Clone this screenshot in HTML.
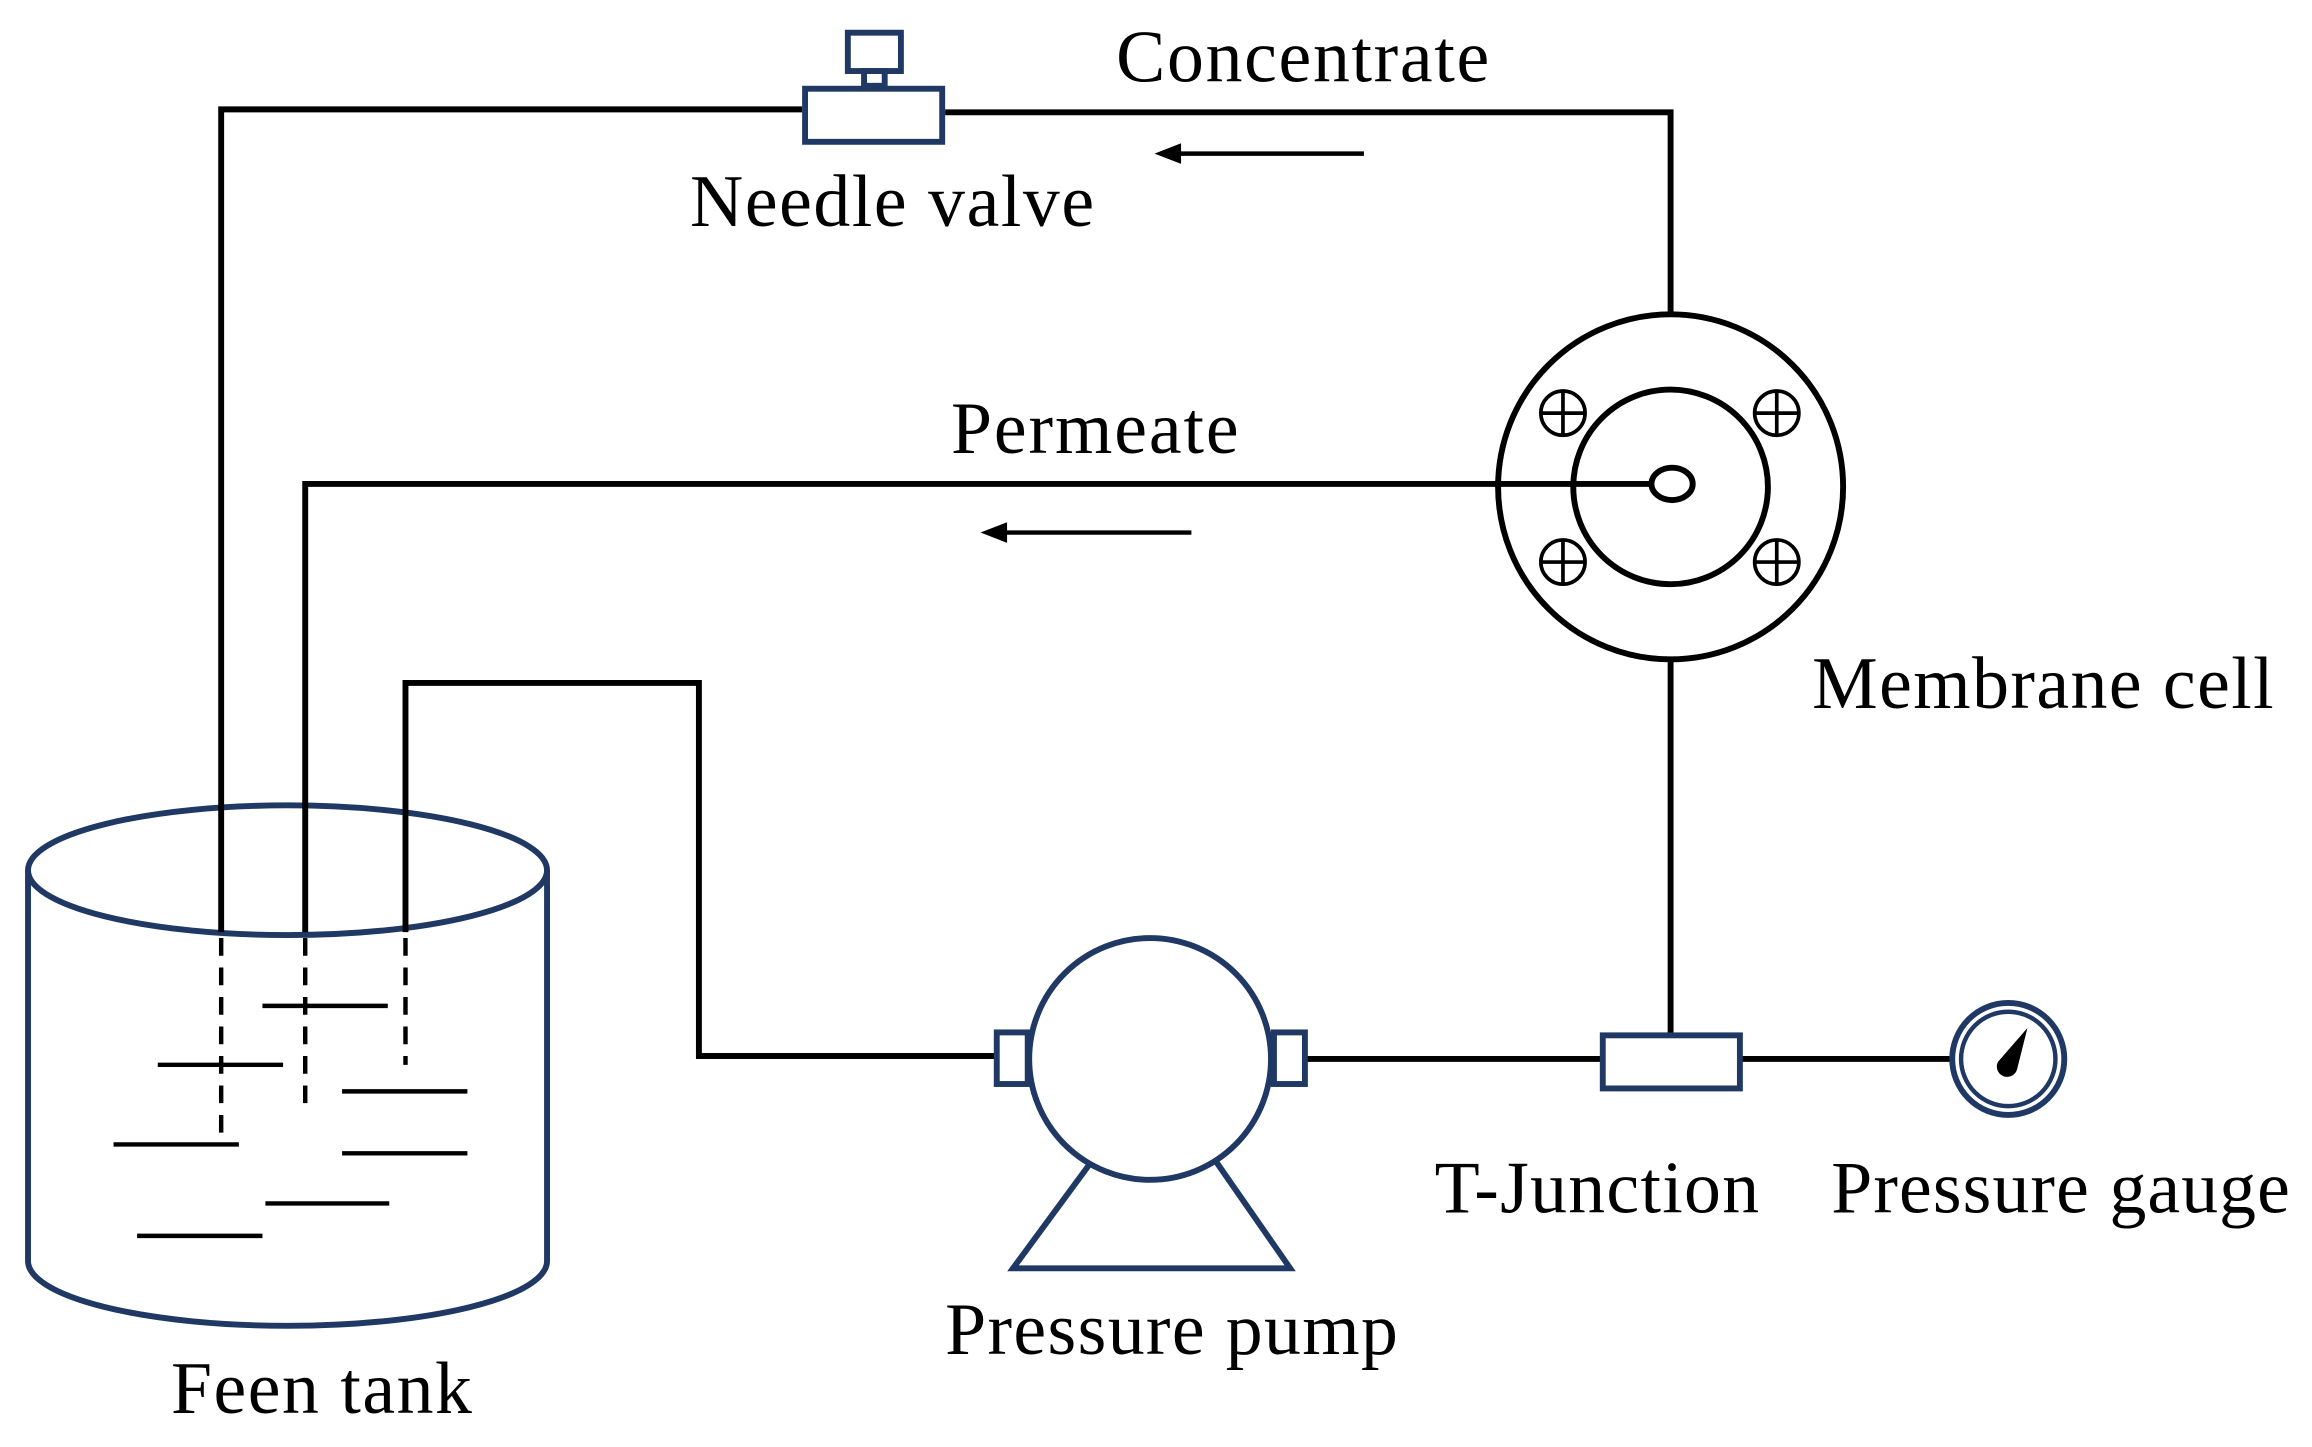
<!DOCTYPE html>
<html><head><style>html,body{margin:0;padding:0;background:#fff}svg{display:block}</style></head><body>
<svg width="2312" height="1447" viewBox="0 0 1568 981" xmlns="http://www.w3.org/2000/svg">
<g fill="none" stroke="#1f3864" stroke-width="4">
<ellipse cx="195" cy="590" rx="176" ry="44"/>
<path d="M19,590 L19,855 A176,44 0 0 0 371,855 L371,590"/>
</g>
<g fill="none" stroke="#000" stroke-width="4">
<polyline points="150,632 150,74 544,74"/>
<polyline points="641,76 1133,76 1133,214"/>
<polyline points="1120,328 207,328 207,632"/>
<polyline points="275,632 275,463 474,463 474,716 676,716"/>
<line x1="885" y1="718" x2="1087" y2="718"/>
<line x1="1133" y1="447" x2="1133" y2="702"/>
<line x1="1180" y1="718" x2="1325" y2="718"/>
<g stroke-dasharray="12,8" stroke-width="3"><line x1="150" y1="636" x2="150" y2="775"/><line x1="207" y1="636" x2="207" y2="755"/><line x1="275" y1="636" x2="275" y2="722"/></g>
<g stroke-width="3"><line x1="925" y1="104" x2="798" y2="104"/><line x1="808" y1="361" x2="680" y2="361"/>
<line x1="178" y1="682" x2="263" y2="682"/><line x1="107" y1="722" x2="192" y2="722"/><line x1="232" y1="740" x2="317" y2="740"/><line x1="77" y1="776" x2="162" y2="776"/><line x1="232" y1="782" x2="317" y2="782"/><line x1="180" y1="816" x2="264" y2="816"/><line x1="93" y1="838" x2="178" y2="838"/></g>
<circle cx="1133" cy="330" r="117"/><circle cx="1133" cy="330" r="66"/><ellipse cx="1134" cy="328" rx="14" ry="11"/>
<g stroke-width="2.5"><g id="b"><circle cx="1060" cy="280" r="15"/><line x1="1045" y1="280" x2="1075" y2="280"/><line x1="1060" y1="265" x2="1060" y2="295"/></g>
<use href="#b" x="145"/><use href="#b" y="101"/><use href="#b" x="145" y="101"/></g>
</g>
<path d="M783,104 L801,97 L801,111 Z M665,361 L683,354 L683,368 Z" fill="#000"/>
<g fill="none" stroke="#1f3864" stroke-width="4">
<rect x="546" y="60" width="93" height="36" fill="#fff"/><rect x="575" y="22" width="36" height="26"/><rect x="586" y="48" width="14" height="10"/>
<circle cx="780" cy="718" r="82"/><rect x="676" y="700" width="21" height="35" fill="#fff"/><rect x="864" y="700" width="21" height="35" fill="#fff"/>
<polyline points="740,788 687,860 875,860 825,788"/>
<rect x="1087" y="702" width="93" height="36" fill="#fff"/>
<circle cx="1362" cy="718" r="38" fill="#fff"/><circle cx="1362" cy="718" r="32" stroke-width="3"/>
</g>
<path d="M1375,697 L1368,725 A7,7 0 1 1 1355,720 Z" fill="#000"/>
<g font-family="Liberation Serif, serif" font-size="50" fill="#000" lengthAdjust="spacingAndGlyphs">
<text x="757" y="55" textLength="253">Concentrate</text><text x="468" y="153" textLength="274">Needle valve</text><text x="645" y="307" textLength="195">Permeate</text>
<text x="1229" y="480" textLength="313">Membrane cell</text><text x="973" y="822" textLength="220">T-Junction</text><text x="1242" y="822" textLength="311">Pressure gauge</text>
<text x="641" y="918" textLength="307">Pressure pump</text><text x="116" y="958" textLength="204">Feen tank</text></g>
</svg>
</body></html>
